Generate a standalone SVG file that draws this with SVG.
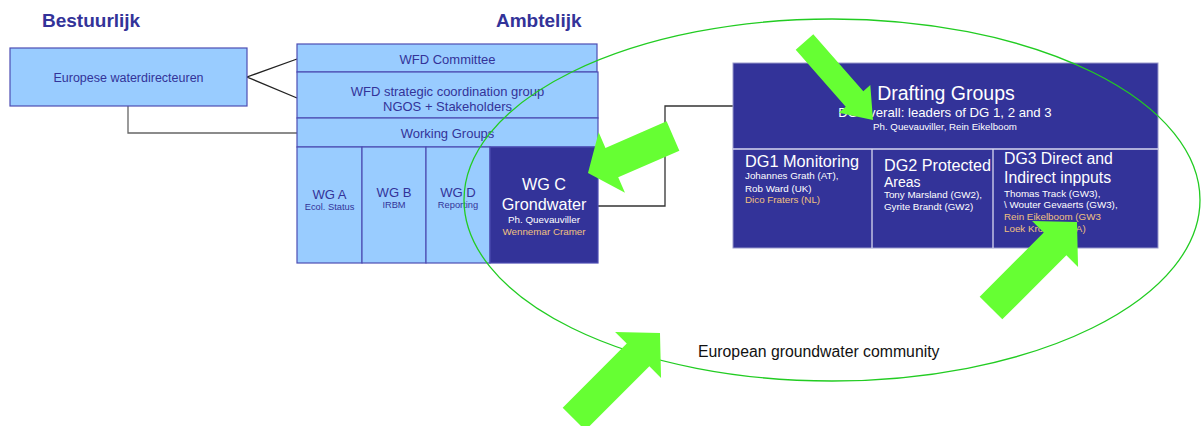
<svg xmlns="http://www.w3.org/2000/svg" width="1203" height="426" viewBox="0 0 1203 426">
<style>
text{font-family:"Liberation Sans",Arial,sans-serif}
.hdr{font-size:19px;font-weight:bold;fill:#333399}
.lb{fill:#99ccff;stroke:#4d4db3;stroke-width:1.2}
.lt{fill:#333399;text-anchor:middle}
.db{fill:#333399}
.dl{stroke:#d8d8f0;stroke-width:1.3;fill:none}
.wt{fill:#ffffff}
.tan{fill:#f0c080}
.conn{fill:none;stroke:#222;stroke-width:1.3}
.arr{fill:#66ff33}
</style>
<rect width="1203" height="426" fill="#ffffff"/>

<g id="label-bestuurlijk"><text class="hdr" x="42" y="27">Bestuurlijk</text></g>
<g id="label-ambtelijk"><text class="hdr" x="496" y="27">Ambtelijk</text></g>

<g id="connectors">
<polyline class="conn" points="297,59 247,77 297,98"/>
<polyline class="conn" points="128,106 128,133 297,133" style="stroke:#666"/>
<polyline class="conn" points="598,206 665,206 665,106 733,106" style="stroke:#333"/>
</g>

<g id="node-europese">
<rect class="lb" x="10" y="48" width="237" height="58"/>
<text class="lt" x="128.5" y="82" font-size="12.5">Europese waterdirecteuren</text>
</g>

<g id="node-wfd-committee">
<rect class="lb" x="297" y="44" width="300" height="28"/>
<text class="lt" x="447.5" y="64" font-size="13">WFD Committee</text>
</g>

<g id="node-strategic">
<rect class="lb" x="297" y="72" width="301" height="46"/>
<text class="lt" x="447.5" y="96" font-size="13">WFD strategic coordination group</text>
<text class="lt" x="447.5" y="111" font-size="13">NGOS + Stakeholders</text>
</g>

<g id="node-working-groups">
<rect class="lb" x="297" y="118" width="301" height="29"/>
<text class="lt" x="447.5" y="138" font-size="13">Working Groups</text>
</g>

<g id="node-wga">
<rect class="lb" x="297" y="147" width="65" height="116"/>
<text class="lt" x="329.5" y="199" font-size="13.1">WG A</text>
<text class="lt" x="329.5" y="210" font-size="9.3">Ecol. Status</text>
</g>

<g id="node-wgb">
<rect class="lb" x="362" y="147" width="64" height="116"/>
<text class="lt" x="394" y="197" font-size="13.1">WG B</text>
<text class="lt" x="394" y="208" font-size="9.3">IRBM</text>
</g>

<g id="node-wgd">
<rect class="lb" x="426" y="147" width="64" height="116"/>
<text class="lt" x="458" y="197" font-size="13.1">WG D</text>
<text class="lt" x="458" y="208" font-size="9.3">Reporting</text>
</g>

<g id="node-wgc">
<rect x="490" y="147" width="108" height="116" fill="#333399" stroke="#4d4db3" stroke-width="1.2"/>
<text class="wt" x="544" y="190" font-size="16.2" text-anchor="middle">WG C</text>
<text class="wt" x="544" y="210" font-size="16.2" text-anchor="middle">Grondwater</text>
<text class="wt" x="544" y="223" font-size="9.8" text-anchor="middle">Ph. Quevauviller</text>
<text class="tan" x="544" y="235" font-size="9.8" text-anchor="middle">Wennemar Cramer</text>
</g>

<g id="node-drafting">
<rect class="db" x="733" y="63" width="425" height="185" stroke="#9999cc" stroke-width="1"/>
<line class="dl" x1="733" y1="149" x2="1158" y2="149"/>
<line class="dl" x1="872" y1="149" x2="872" y2="248"/>
<line class="dl" x1="993" y1="149" x2="993" y2="248"/>
<text class="wt" x="946" y="100" font-size="19.5" text-anchor="middle">Drafting Groups</text>
<text class="wt" x="945" y="117" font-size="13.2" text-anchor="middle">DG overall: leaders of DG 1, 2 and 3</text>
<text class="wt" x="945" y="130" font-size="9.7" text-anchor="middle">Ph. Quevauviller, Rein Eikelboom</text>
<g id="node-dg1">
<text class="wt" x="745" y="167" font-size="16.3">DG1 Monitoring</text>
<text class="wt" x="745" y="179" font-size="9.8">Johannes Grath (AT),</text>
<text class="wt" x="745" y="192" font-size="9.8">Rob Ward (UK)</text>
<text class="tan" x="745" y="203" font-size="9.8">Dico Fraters (NL)</text>
</g>
<g id="node-dg2">
<text class="wt" x="884" y="171" font-size="16.2">DG2 Protected</text>
<text class="wt" x="884" y="187" font-size="14">Areas</text>
<text class="wt" x="884" y="198" font-size="9.8">Tony Marsland (GW2),</text>
<text class="wt" x="884" y="210" font-size="9.8">Gyrite Brandt (GW2)</text>
</g>
<g id="node-dg3">
<text class="wt" x="1004" y="164" font-size="15.8">DG3 Direct and</text>
<text class="wt" x="1004" y="183" font-size="15.8">Indirect inpputs</text>
<text class="wt" x="1004" y="197" font-size="9.8">Thomas Track (GW3),</text>
<text class="wt" x="1004" y="208" font-size="9.8">\ Wouter Gevaerts (GW3),</text>
<text class="tan" x="1004" y="220" font-size="9.8">Rein Eikelboom (GW3</text>
<text class="tan" x="1004" y="232" font-size="9.8">Loek Kroon (RIZA)</text>
</g>
</g>

<g id="node-community">
<ellipse cx="832" cy="200" rx="368" ry="181" fill="none" stroke="#22cc22" stroke-width="1.3"/>
<text x="698" y="357" font-size="15.8" fill="#111">European groundwater community</text>
</g>

<g id="arrows">
<polygon class="arr" transform="translate(804.5,42) rotate(48.7)" points="0,-11.7 75.8,-11.7 75.8,-21 103.8,0 75.8,21 75.8,11.7 0,11.7"/>
<polygon class="arr" transform="translate(673,136) rotate(156.5)" points="0,-16 66.7,-16 66.7,-33 92.7,0 66.7,33 66.7,16 0,16"/>
<polygon class="arr" transform="translate(991,308) rotate(-45)" points="0,-16 90.6,-16 90.6,-32.5 121.6,0 90.6,32.5 90.6,16 0,16"/>
<polygon class="arr" transform="translate(574,419) rotate(-45)" points="0,-16 90.6,-16 90.6,-32.5 121.6,0 90.6,32.5 90.6,16 0,16"/>
</g>
</svg>
